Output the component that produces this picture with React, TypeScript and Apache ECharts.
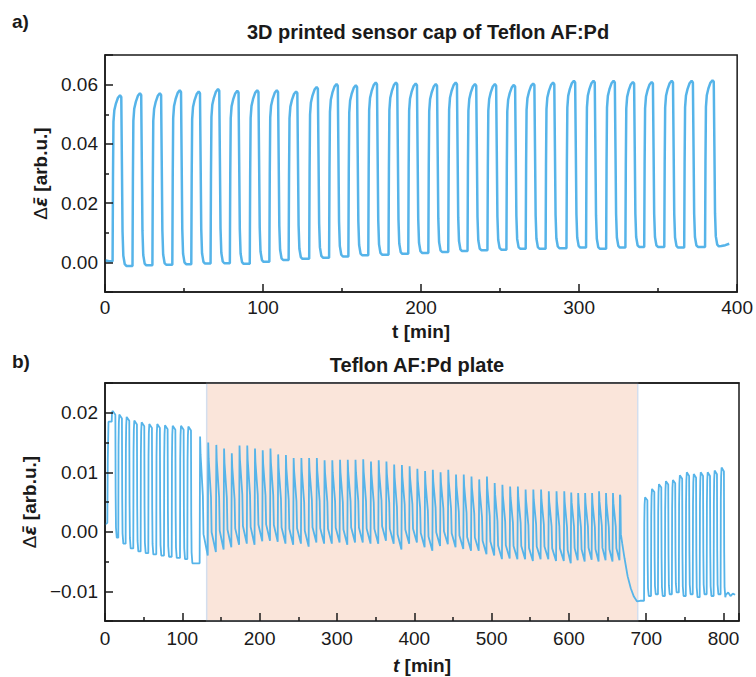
import React, { useEffect, useRef } from 'react';
import * as echarts from 'echarts';

// ---------------- Panel a: 3D printed sensor cap ----------------
const capPeakTimes = [9.5, 22.1, 34.7, 47.3, 59.3, 71.5, 83.7, 96.3, 108.7, 120.9, 133.9, 146.5, 158.7, 171.3, 184.1, 196.6, 209.3, 221.9, 234.1, 246.7, 258.7, 270.9, 283.5, 296.7, 309.1, 321.8, 334.0, 345.9, 358.6, 371.2, 384.4];
const capPeakValues = [0.0564, 0.0571, 0.0571, 0.0581, 0.0577, 0.0585, 0.0579, 0.0581, 0.0581, 0.0577, 0.0592, 0.0602, 0.0598, 0.0607, 0.0607, 0.0604, 0.0602, 0.0607, 0.0602, 0.0602, 0.0599, 0.0604, 0.0607, 0.0613, 0.0613, 0.0613, 0.0609, 0.0609, 0.0613, 0.0613, 0.0615];
const capBaseValues = [-0.0012, -0.0010, -0.0008, -0.0006, -0.0004, -0.0003, -0.0005, 0.0002, 0.0008, 0.0012, 0.0016, 0.0020, 0.0024, 0.0026, 0.0029, 0.0032, 0.0035, 0.0038, 0.0041, 0.0043, 0.0046, 0.0046, 0.0048, 0.0050, 0.0046, 0.0050, 0.0052, 0.0052, 0.0050, 0.0052, 0.0054];
const capLeadTimes = [0, 2.5];
const capLeadValues = [0.0007, 0.0004];
const capTailTimes = [390, 392.5, 395];
const capTailValues = [0.0055, 0.0058, 0.0063];

// ---------------- Panel b: Teflon AF:Pd plate ----------------
const plateLeadTimes = [0, 3, 3.6, 4.5];
const plateLeadValues = [0.0012, 0.0015, 0.012, 0.0185];
const plate1PeakTimes = [10.0, 18.5, 28.0, 37.9, 47.4, 57.3, 67.6, 77.6, 87.6, 98.3, 107.8];
const plate1PeakValues = [0.0203, 0.0197, 0.0193, 0.0187, 0.0184, 0.0181, 0.0181, 0.0179, 0.0178, 0.0178, 0.0177];
const plate1BaseValues = [-0.0010, -0.0020, -0.0028, -0.0033, -0.0036, -0.0038, -0.0040, -0.0042, -0.0044, -0.0046, -0.0053];

const plate2PeakTimes = [123, 133.5, 144, 154, 164, 174, 184, 194, 204, 214, 224, 234, 244, 254, 264, 274, 284, 294, 304, 314, 324, 334, 344, 354, 364, 374, 384, 394, 404, 414, 424, 434, 444, 454, 464, 474, 484, 494, 504, 514, 524, 534, 544, 554, 564, 574, 584, 594, 603, 612, 621, 630, 639, 648, 657, 666];
const plate2PeakValues = [0.0160, 0.0150, 0.0146, 0.0140, 0.0132, 0.0145, 0.0145, 0.0140, 0.0137, 0.0140, 0.0130, 0.0129, 0.0124, 0.0124, 0.0124, 0.0124, 0.0120, 0.0120, 0.0121, 0.0121, 0.0121, 0.0122, 0.0118, 0.0120, 0.0118, 0.0113, 0.0112, 0.0110, 0.0106, 0.0102, 0.0104, 0.0100, 0.0104, 0.0096, 0.0096, 0.0093, 0.0088, 0.0093, 0.0082, 0.0079, 0.0076, 0.0076, 0.0071, 0.0071, 0.0071, 0.0068, 0.0068, 0.0068, 0.0066, 0.0065, 0.0065, 0.0065, 0.0068, 0.0065, 0.0065, 0.0062];
const plate2BaseValues = [-0.0040, -0.0034, -0.0030, -0.0026, -0.0022, -0.0020, -0.0022, -0.0016, -0.0015, -0.0017, -0.0020, -0.0022, -0.0020, -0.0025, -0.0018, -0.0020, -0.0020, -0.0018, -0.0022, -0.0018, -0.0018, -0.0020, -0.0020, -0.0015, -0.0020, -0.0030, -0.0020, -0.0018, -0.0026, -0.0032, -0.0024, -0.0021, -0.0026, -0.0029, -0.0032, -0.0032, -0.0038, -0.0040, -0.0046, -0.0045, -0.0046, -0.0046, -0.0049, -0.0046, -0.0046, -0.0049, -0.0049, -0.0053, -0.0048, -0.0050, -0.0047, -0.0050, -0.0048, -0.0050, -0.0048];

const plateDecayTimes = [666.6, 667.2, 669, 672, 676, 680, 684, 688, 692];
const plateDecayValues = [0.0060, -0.0004, -0.0020, -0.0045, -0.0075, -0.0095, -0.0109, -0.0117, -0.0116];

const plate3PeakTimes = [698.5, 707.5, 716.5, 725.5, 734.5, 743.5, 752.5, 761.5, 770.5, 779.5, 788.5, 797.5];
const plate3PeakValues = [0.0058, 0.0072, 0.0080, 0.0085, 0.0087, 0.0095, 0.0100, 0.0097, 0.0100, 0.0100, 0.0103, 0.0108];
const plate3BaseValues = [-0.0108, -0.0105, -0.0108, -0.0105, -0.0102, -0.0108, -0.0105, -0.0110, -0.0105, -0.0108, -0.0105, -0.0110];
const plateTailTimes = [803, 806, 809, 812, 815];
const plateTailValues = [-0.0106, -0.0102, -0.0108, -0.0104, -0.0106];

const shadeRange = [131.5, 689];

// tick labels
const capXTicks = [0, 100, 200, 300, 400];
const capYTicks = [0, 0.02, 0.04, 0.06];
const plateXTicks = [0, 100, 200, 300, 400, 500, 600, 700, 800];
const plateYTicks = [-0.01, 0, 0.01, 0.02];

// ---------------- pulse shapes (relative offsets in minutes, fraction of amplitude) ----------------
type Pt = [number, number];
const capRise: Pt[] = [[-4.7, 0], [-4.45, 0.5], [-4.15, 0.84], [-3.6, 0.91], [-2.6, 0.95], [-1.3, 0.985], [0, 1]];
const capFall: Pt[] = [[0.8, 0.99], [1.2, 0.6], [1.6, 0.2], [2.1, 0.06], [3.0, 0.01], [4.0, 0]];
const squareRise: Pt[] = [[-1.3, 0], [-1.0, 0.75], [-0.6, 0.93], [0, 1]];
const square1Fall: Pt[] = [[3.4, 0.97], [3.75, 0.35], [4.2, 0.08], [5.2, 0]];
const square3Fall: Pt[] = [[3.0, 0.97], [3.35, 0.35], [3.8, 0.08], [4.8, 0]];
const sawRise: Pt[] = [[-0.6, 0], [0, 1]];
const sawFall: Pt[] = [[0.6, 0.85], [3.6, 0.5], [4.4, 0.18]];

function zip(ts: number[], vs: number[]): Pt[] {
  return ts.map((t, i) => [t, vs[i]] as Pt);
}

function pulseTrain(times: number[], peaks: number[], bases: number[], b0Init: number, rise: Pt[], fall: Pt[]): Pt[] {
  const pts: Pt[] = [];
  let b0 = b0Init;
  for (let i = 0; i < times.length; i++) {
    const tp = times[i];
    const P = peaks[i];
    for (const [dt, f] of rise) pts.push([tp + dt, b0 + f * (P - b0)]);
    if (bases[i] !== undefined) {
      const b1 = bases[i];
      for (const [dt, f] of fall) pts.push([tp + dt, b1 + f * (P - b1)]);
      b0 = b1;
    }
  }
  return pts;
}

const capData: Pt[] = [
  ...zip(capLeadTimes, capLeadValues),
  ...pulseTrain(capPeakTimes, capPeakValues, capBaseValues, capLeadValues[capLeadValues.length - 1], capRise, capFall),
  ...zip(capTailTimes, capTailValues),
];

const plateData: Pt[] = [
  ...zip(plateLeadTimes, plateLeadValues),
  ...pulseTrain(plate1PeakTimes, plate1PeakValues, plate1BaseValues, plateLeadValues[plateLeadValues.length - 1], squareRise, square1Fall),
  ...pulseTrain(plate2PeakTimes, plate2PeakValues, plate2BaseValues, plate1BaseValues[plate1BaseValues.length - 1], sawRise, sawFall),
  ...zip(plateDecayTimes, plateDecayValues),
  ...pulseTrain(plate3PeakTimes, plate3PeakValues, plate3BaseValues, plateDecayValues[plateDecayValues.length - 1], squareRise, square3Fall),
  ...zip(plateTailTimes, plateTailValues),
];

const LINE = '#56B4E9';
const INK = '#1a1a1a';
const FONT = '"Liberation Sans", Arial, Helvetica, sans-serif';
const EFONT = '"DejaVu Sans", "Liberation Sans", sans-serif';

function isTick(v: number, ticks: number[]) {
  return ticks.some((t) => Math.abs(t - v) < 1e-9);
}
function fmtY(v: number, ticks: number[]) {
  if (!isTick(v, ticks)) return '';
  const s = Math.abs(v) < 1e-12 ? '0.00' : v.toFixed(2);
  return s.replace('-', '\u2212');
}
function fmtX(v: number, ticks: number[]) {
  return isTick(v, ticks) ? String(Math.round(v)) : '';
}

const yName = '{d|\u0394}{e|\u03b5\u0304}{n| [arb.u.]}';
const yNameStyle = {
  color: INK,
  fontFamily: FONT,
  rich: {
    d: { fontSize: 19, fontFamily: FONT, fontWeight: 'normal', color: INK },
    e: { fontSize: 18, fontFamily: EFONT, fontWeight: 'bold', fontStyle: 'italic', color: INK },
    n: { fontSize: 19, fontFamily: FONT, fontWeight: 'bold', color: INK },
  },
};

function baseAxis(extra: any) {
  return {
    type: 'value',
    z: 5,
    axisLine: { show: true, onZero: false, lineStyle: { color: INK, width: 1.5 } },
    axisTick: { show: true, inside: true, length: 8, lineStyle: { color: INK, width: 1.5 } },
    minorTick: { show: true, splitNumber: 2, length: 4, lineStyle: { color: INK, width: 1.5 } },
    splitLine: { show: false },
    minorSplitLine: { show: false },
    axisLabel: { color: INK, fontSize: 19, fontFamily: FONT },
    ...extra,
  };
}

export default function App() {
  const ref = useRef<HTMLDivElement>(null);
  useEffect(() => {
    if (!ref.current) return;
    const chart = echarts.init(ref.current, undefined, { renderer: 'svg' });
    const option: any = {
      animation: false,
      backgroundColor: '#ffffff',
      grid: [
        { left: 105, top: 55, width: 634, height: 237, show: true, borderColor: INK, borderWidth: 1.5, backgroundColor: 'transparent' },
        { left: 105, top: 383, width: 634, height: 238, show: true, borderColor: INK, borderWidth: 1.5, backgroundColor: 'transparent' },
      ],
      xAxis: [
        baseAxis({
          gridIndex: 0, min: 0, max: 400, interval: 100,
          axisLabel: { color: INK, fontSize: 19, fontFamily: FONT, margin: 6, formatter: (v: number) => fmtX(v, capXTicks) },
          name: 't [min]', nameLocation: 'middle', nameGap: 30,
          nameTextStyle: { color: INK, fontSize: 19, fontFamily: FONT, fontWeight: 'bold' },
        }),
        baseAxis({
          gridIndex: 1, min: 0, max: 820, interval: 100,
          axisLabel: { color: INK, fontSize: 19, fontFamily: FONT, margin: 8, showMaxLabel: false, formatter: (v: number) => fmtX(v, plateXTicks) },
          name: '{i|t} [min]', nameLocation: 'middle', nameGap: 35,
          nameTextStyle: {
            color: INK, fontSize: 19, fontFamily: FONT, fontWeight: 'bold',
            rich: { i: { fontSize: 19, fontFamily: FONT, fontWeight: 'bold', fontStyle: 'italic', color: INK } },
          },
        }),
        {
          type: 'value', gridIndex: 1, position: 'top', min: 0, max: 820, z: 5,
          axisLine: { show: true, onZero: false, lineStyle: { color: INK, width: 1.5 } },
          axisTick: { show: false }, axisLabel: { show: false }, splitLine: { show: false },
        },
      ],
      yAxis: [
        baseAxis({
          gridIndex: 0, min: -0.01, max: 0.07, splitNumber: 4,
          axisLabel: { color: INK, fontSize: 19, fontFamily: FONT, margin: 7, formatter: (v: number) => fmtY(v, capYTicks) },
          name: yName, nameLocation: 'middle', nameGap: 48, nameRotate: 90,
          nameTextStyle: yNameStyle,
        }),
        baseAxis({
          gridIndex: 1, min: -0.015, max: 0.025, splitNumber: 4,
          axisLabel: { color: INK, fontSize: 19, fontFamily: FONT, margin: 7, formatter: (v: number) => fmtY(v, plateYTicks) },
          name: yName, nameLocation: 'middle', nameGap: 48, nameRotate: 90,
          nameTextStyle: yNameStyle,
        }),
      ],
      series: [
        {
          type: 'line', xAxisIndex: 0, yAxisIndex: 0, data: capData, showSymbol: false, z: 2,
          lineStyle: { color: LINE, width: 2.5 }, itemStyle: { color: LINE }, clip: true,
        },
        {
          type: 'line', xAxisIndex: 1, yAxisIndex: 1, data: [], showSymbol: false, z: 1,
          markArea: {
            silent: true,
            itemStyle: { color: '#FAE5DA', borderColor: '#D3DEEE', borderWidth: 1.5 },
            data: [[{ xAxis: shadeRange[0] }, { xAxis: shadeRange[1] }]],
          },
        },
        {
          type: 'line', xAxisIndex: 1, yAxisIndex: 1, data: plateData, showSymbol: false, z: 2,
          lineStyle: { color: LINE, width: 1.8 }, itemStyle: { color: LINE }, clip: true,
        },
      ],
      graphic: [
        { type: 'text', x: 12, y: 21, style: { text: 'a)', font: `bold 19px ${FONT}`, fill: INK, textAlign: 'left', textVerticalAlign: 'middle' } },
        { type: 'text', x: 428, y: 32, style: { text: '3D printed sensor cap of Teflon AF:Pd', font: `bold 20px ${FONT}`, fill: INK, textAlign: 'center', textVerticalAlign: 'middle' } },
        { type: 'text', x: 12, y: 361, style: { text: 'b)', font: `bold 19px ${FONT}`, fill: INK, textAlign: 'left', textVerticalAlign: 'middle' } },
        { type: 'text', x: 417, y: 365, style: { text: 'Teflon AF:Pd plate', font: `bold 20px ${FONT}`, fill: INK, textAlign: 'center', textVerticalAlign: 'middle' } },
      ],
    };
    chart.setOption(option);
    return () => chart.dispose();
  }, []);
  return <div ref={ref} style={{ position: 'fixed', left: 0, top: 0, width: 756, height: 677 }} />;
}
